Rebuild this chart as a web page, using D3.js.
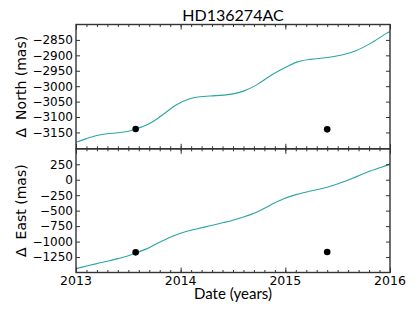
<!DOCTYPE html>
<html>
<head>
<meta charset="utf-8">
<script src="https://cdn.jsdelivr.net/npm/d3@7"></script>
<style>
  body { margin: 0; background: #fff; }
  .tick-label { font-family: "DejaVu Sans", sans-serif; fill: #000; }
</style>
</head>
<body>
<div id="chart"></div>
<script>
// Orbit model
const years = [2013.00, 2013.10, 2013.20, 2013.30, 2013.40, 2013.50, 2013.57, 2013.68, 2013.77,
  2013.87, 2013.96, 2014.06, 2014.15, 2014.28, 2014.41, 2014.50, 2014.60, 2014.73, 2014.85,
  2014.98, 2015.11, 2015.24, 2015.39, 2015.55, 2015.68, 2015.81, 2015.97, 2016.00];
const northModel = [-3182, -3170, -3160, -3154, -3151, -3146, -3139, -3125, -3107,
  -3082, -3060, -3044, -3036, -3032, -3029, -3025, -3016, -2995, -2968,
  -2943, -2922, -2913, -2908, -2898, -2884, -2862, -2828, -2823];
const eastModel = [-1438, -1396, -1356, -1318, -1276, -1229, -1184, -1114, -1035,
  -954, -889, -834, -796, -745, -693, -654, -603, -522, -415,
  -310, -237, -183, -127, -38, 50, 140, 232, 250];

// Measured epochs
const obsYears = [2013.57, 2015.40];
const obsNorth = [-3139, -3140];
const obsEast = [-1174, -1169];

// Tick values
const xTicks = [2013, 2014, 2015, 2016];
const northTicks = [-2850, -2900, -2950, -3000, -3050, -3100, -3150];
const eastTicks = [250, 0, -250, -500, -750, -1000, -1250];

const width = 415, height = 312;
const left = 76, right = 390;
const lineColor = "#2ba5a2";
const frameColor = "#333";

const svg = d3.select("#chart").append("svg")
    .attr("width", width)
    .attr("height", height);

const xScale = d3.scaleLinear().domain([2013, 2016]).range([left, right]);
const minorTicks = d3.range(2013, 2016.001, 0.1).map(d => +d.toFixed(1));

const panels = [
    { top: 24.5, bottom: 148.8, domain: [-3203, -2800], model: northModel, obs: obsNorth,
      ticks: northTicks, label: "North (mas)", showX: false },
    { top: 148.8, bottom: 272.5, domain: [-1500, 500], model: eastModel, obs: obsEast,
      ticks: eastTicks, label: "East (mas)", showX: true }
];

panels.forEach(p => {
    const yScale = d3.scaleLinear().domain(p.domain).range([p.bottom, p.top]);
    const g = svg.append("g");

    // clip the model line to the panel
    const clipId = "clip" + Math.round(p.top);
    svg.append("clipPath").attr("id", clipId)
        .append("rect")
        .attr("x", left).attr("y", p.top)
        .attr("width", right - left).attr("height", p.bottom - p.top);

    const line = d3.line()
        .x((d, i) => xScale(years[i]))
        .y(d => yScale(d))
        .curve(d3.curveCatmullRom.alpha(0.5));

    g.append("path")
        .datum(p.model)
        .attr("clip-path", `url(#${clipId})`)
        .attr("fill", "none")
        .attr("stroke", lineColor)
        .attr("stroke-width", 1.1)
        .attr("d", line);

    g.selectAll("circle.obs")
        .data(p.obs)
        .join("circle")
            .attr("class", "obs")
            .attr("cx", (d, i) => xScale(obsYears[i]))
            .attr("cy", d => yScale(d))
            .attr("r", 3.3)
            .attr("fill", "#000");

    // y ticks, inward on both sides
    const yAxisL = d3.axisRight(yScale).tickValues(p.ticks).tickSize(4).tickFormat("");
    g.append("g").attr("transform", `translate(${left},0)`).call(yAxisL)
        .call(a => a.select(".domain").remove());
    const yAxisR = d3.axisLeft(yScale).tickValues(p.ticks).tickSize(4).tickFormat("");
    g.append("g").attr("transform", `translate(${right},0)`).call(yAxisR)
        .call(a => a.select(".domain").remove());

    // y tick labels (matplotlib style minus sign)
    g.selectAll("text.ylab")
        .data(p.ticks)
        .join("text")
            .attr("class", "tick-label ylab")
            .attr("x", left - 3)
            .attr("y", d => yScale(d))
            .attr("dy", "0.36em")
            .attr("text-anchor", "end")
            .attr("font-size", 12)
            .text(d => d < 0 ? "\u2212" + Math.abs(d) : d);

    // x ticks: major + minor, inward at top and bottom
    [p.top, p.bottom].forEach((yy, k) => {
        const dir = k === 0 ? d3.axisBottom : d3.axisTop;
        g.append("g").attr("transform", `translate(0,${yy})`)
            .call(dir(xScale).tickValues(minorTicks).tickSize(2.5).tickFormat(""))
            .call(a => a.select(".domain").remove());
        g.append("g").attr("transform", `translate(0,${yy})`)
            .call(dir(xScale).tickValues(xTicks).tickSize(5).tickFormat(""))
            .call(a => a.select(".domain").remove());
    });

    g.selectAll(".tick line").attr("stroke", frameColor).attr("stroke-width", 1);

    // frame
    g.append("rect")
        .attr("x", left).attr("y", p.top)
        .attr("width", right - left).attr("height", p.bottom - p.top)
        .attr("fill", "none")
        .attr("stroke", frameColor)
        .attr("stroke-width", 1.4);

    if (p.showX) {
        g.selectAll("text.xlab")
            .data(xTicks)
            .join("text")
                .attr("class", "tick-label xlab")
                .attr("x", d => xScale(d))
                .attr("y", p.bottom + 12.5)
                .attr("text-anchor", "middle")
                .attr("font-size", 12.5)
                .text(d => d);
    }

    // y axis label
    const cy = (p.top + p.bottom) / 2;
    const lab = svg.append("text")
        .attr("transform", `translate(26,${cy}) rotate(-90)`)
        .attr("text-anchor", "middle")
        .attr("font-family", "DejaVu Sans, sans-serif")
        .attr("font-size", 14);
    lab.append("tspan").text("\u0394");
    lab.append("tspan").attr("dx", 8).text(p.label);
});

// title
svg.append("text")
    .attr("x", (left + right) / 2)
    .attr("y", 20.5)
    .attr("text-anchor", "middle")
    .attr("font-family", "Lato, sans-serif")
    .attr("font-size", 16)
    .text("HD136274AC");

// x axis label
svg.append("text")
    .attr("x", (left + right) / 2)
    .attr("y", 298.5)
    .attr("text-anchor", "middle")
    .attr("font-family", "Lato, sans-serif")
    .attr("font-size", 15)
    .text("Date (years)");
</script>
</body>
</html>
